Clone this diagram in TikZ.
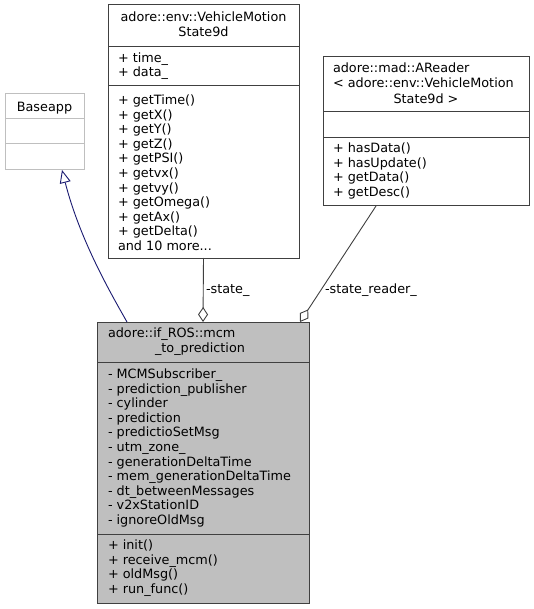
\documentclass[tikz,border=0pt]{standalone}
\usepackage{fontspec}
\setmainfont{DejaVu Sans}
\usetikzlibrary{arrows.meta,calc}
\definecolor{edgegrey}{HTML}{404040}
\definecolor{lightframe}{HTML}{BFBFBF}
\definecolor{mainfill}{HTML}{BFBFBF}
\definecolor{inhblue}{HTML}{191970}
\tikzset{
  umlbox/.style={draw=edgegrey, line width=1pt, fill=white, inner sep=0pt, outer sep=0pt, rectangle},
  greybox/.style={draw=lightframe, line width=1pt, fill=white, inner sep=0pt, outer sep=0pt, rectangle},
  mainbox/.style={draw=edgegrey, line width=1pt, fill=mainfill, inner sep=0pt, outer sep=0pt, rectangle},
  txt/.style={inner sep=0pt, outer sep=0pt, font=\fontsize{12.8}{14.6}\selectfont, anchor=base west},
  ctxt/.style={inner sep=0pt, outer sep=0pt, font=\fontsize{12.8}{14.6}\selectfont, anchor=base},
  lst/.style={inner sep=0pt, outer sep=0pt, font=\fontsize{12.8}{14.6}\selectfont, align=left, anchor=base west},
  divider/.style={draw=edgegrey, line width=1pt},
  greydivider/.style={draw=lightframe, line width=1pt},
  assoc/.style={draw=edgegrey, line width=0.9pt},
  inherit/.style={draw=inhblue, line width=0.9pt},
}
\begin{document}
\begin{tikzpicture}[x=1pt,y=-1pt]
\useasboundingbox (0,0) rectangle (534,609);

% Baseapp
\node[greybox, minimum width=79pt, minimum height=76pt] (base) at (44.5,132) {};
\draw[greydivider] (5,119) -- (84,119);
\draw[greydivider] (5,144) -- (84,144);
\node[ctxt] (baset) at (44.5,111.5) {Baseapp};

% VehicleMotionState9d
\node[umlbox, minimum width=191pt, minimum height=253pt] (vms) at (203.5,131.5) {};
\draw[divider] (108,47) -- (299,47);
\draw[divider] (108,86) -- (299,86);
\node[ctxt] (vmst1) at (203.5,21.5) {adore::env::VehicleMotion};
\node[ctxt] (vmst2) at (203.5,36.5) {State9d};
% lists: anchor is the baseline of the last line
\node[lst] (vmsa) at (118,77) {+ time\_\\+ data\_};
\node[lst] (vmsm) at (118,250.5) {+ getTime()\\+ getX()\\+ getY()\\+ getZ()\\+ getPSI()\\+ getvx()\\+ getvy()\\+ getOmega()\\+ getAx()\\+ getDelta()\\and 10 more...};

% AReader
\node[umlbox, minimum width=206pt, minimum height=149pt] (ar) at (426,131.5) {};
\draw[divider] (323,112) -- (529,112);
\draw[divider] (323,138) -- (529,138);
\node[txt] (art1) at (333,72.5) {adore::mad::AReader};
\node[txt] (art2) at (333,87.5) {< adore::env::VehicleMotion};
\node[ctxt] (art3) at (426,104) {State9d >};
\node[lst] (arm) at (333,196.5) {+ hasData()\\+ hasUpdate()\\+ getData()\\+ getDesc()};

% main class
\node[mainbox, minimum width=212pt, minimum height=281pt] (main) at (203,462.5) {};
\draw[divider] (97,362) -- (309,362);
\draw[divider] (97,534) -- (309,534);
\node[txt] (mt1) at (108,337.5) {adore::if\_ROS::mcm};
\node[ctxt] (mt2) at (200,352.5) {\_to\_prediction};
\node[lst] (ma) at (108,524.5) {- MCMSubscriber\_\\- prediction\_publisher\\- cylinder\\- prediction\\- predictioSetMsg\\- utm\_zone\_\\- generationDeltaTime\\- mem\_generationDeltaTime\\- dt\_betweenMessages\\- v2xStationID\\- ignoreOldMsg};
\node[lst] (mm) at (108,593.5) {+ init()\\+ receive\_mcm()\\+ oldMsg()\\+ run\_func()};

% connectors
\draw[inherit, -{Triangle[open, length=13pt, width=11pt, fill=white]}]
  ([xshift=-76pt]main.north) .. controls (110,292) and (80,240) .. ([xshift=17.5pt]base.south);
\draw[assoc, {Diamond[open, length=15pt, width=10pt, fill=white]}-]
  (main.north) -- (vms.south);
\draw[assoc, {Diamond[open, length=15pt, width=10pt, fill=white]}-]
  ([xshift=-9pt]main.north east) -- ([xshift=53pt]ar.south west);
\node[txt] (l1) at (206,293.5) {-state\_};
\node[txt] (l2) at (325,293.5) {-state\_reader\_};
\end{tikzpicture}
\end{document}
